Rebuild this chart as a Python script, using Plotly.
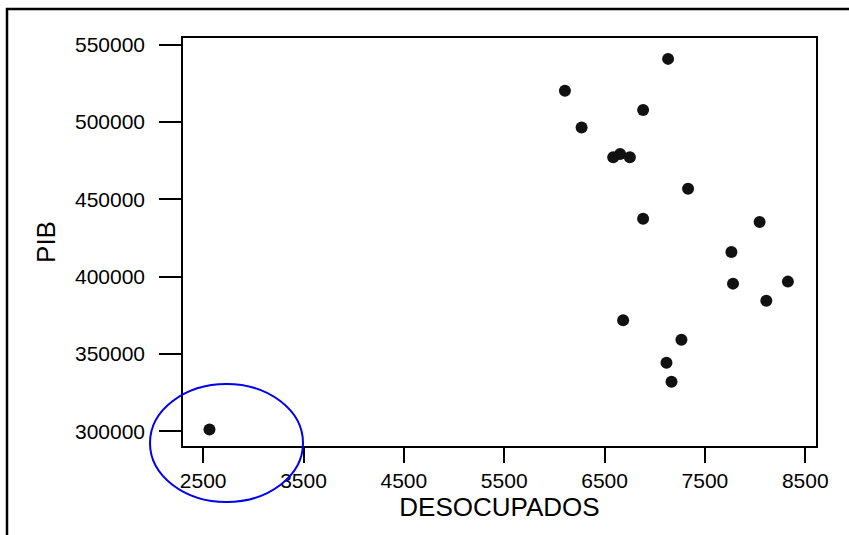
import plotly.graph_objects as go

desocupados = [2563, 6105, 6271, 6586, 6655, 6752, 6884, 7133, 7332, 6884,
               8045, 7764, 7780, 8327, 8112, 6685, 7266, 7117, 7167]
pib = [301100, 520100, 496300, 477100, 479200, 477100, 507600, 540700, 456700, 437300,
       435200, 415900, 395400, 396700, 384300, 371800, 359100, 344300, 331900]

x_ticks = [2500, 3500, 4500, 5500, 6500, 7500, 8500]
y_ticks = [300000, 350000, 400000, 450000, 500000, 550000]

W, H = 849, 535
L, R, T, B = 183, 33, 38, 89
pw, ph = W - L - R, H - T - B

def px(x):
    return (x - L) / pw

def py(y):
    return (H - B - y) / ph

font = "Liberation Sans, Arial, sans-serif"

fig = go.Figure(go.Scatter(
    x=desocupados, y=pib, mode="markers",
    marker=dict(size=12, color="#111111", line=dict(width=0)),
    hoverinfo="skip"))

fig.update_layout(
    width=W, height=H,
    margin=dict(l=L, r=R, t=T, b=B, pad=0),
    paper_bgcolor="white", plot_bgcolor="white",
    showlegend=False,
    font=dict(family=font, color="black"),
    xaxis=dict(
        range=[2299, 8607], tickvals=x_ticks, ticktext=[str(v) for v in x_ticks],
        ticks="outside", ticklen=15, tickwidth=1.5, tickcolor="black",
        showline=True, linecolor="black", linewidth=1.5, mirror=True,
        showgrid=False, zeroline=False,
        tickfont=dict(size=21, family=font),
        ticklabelstandoff=0,
        title=dict(text="DESOCUPADOS", font=dict(size=26, family=font), standoff=6),
    ),
    yaxis=dict(
        range=[290430, 554200], tickvals=y_ticks, ticktext=[str(v) for v in y_ticks],
        ticks="outside", ticklen=22, tickwidth=1.5, tickcolor="black",
        showline=True, linecolor="black", linewidth=1.5, mirror=True,
        showgrid=False, zeroline=False,
        tickfont=dict(size=21, family=font),
        ticklabelstandoff=10,
        title=dict(text="PIB", font=dict(size=26, family=font), standoff=12),
    ),
    shapes=[
        dict(type="rect", xref="paper", yref="paper",
             x0=px(7), x1=px(870), y0=py(560), y1=py(9),
             line=dict(color="black", width=2.5), fillcolor="rgba(0,0,0,0)", layer="above"),
        dict(type="circle", xref="paper", yref="paper",
             x0=px(150), x1=px(303), y0=py(502), y1=py(384),
             line=dict(color="#0000EE", width=2), fillcolor="rgba(0,0,0,0)", layer="above"),
    ],
)

fig.write_html("out.html")
